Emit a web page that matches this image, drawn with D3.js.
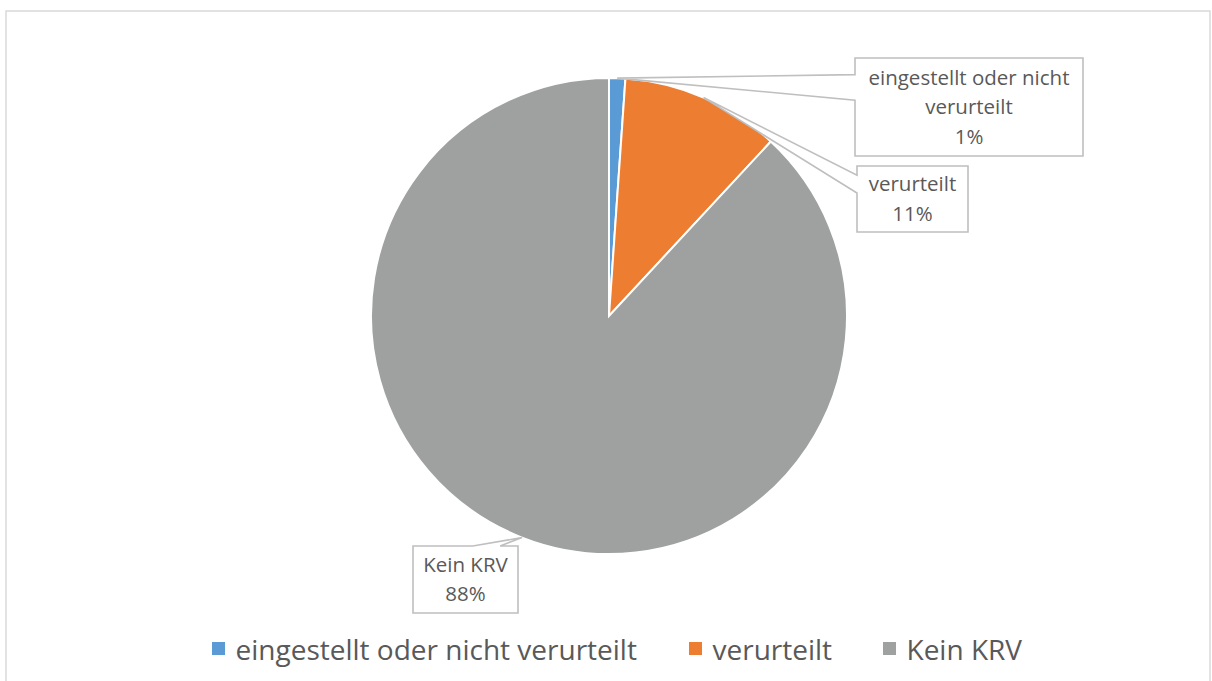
<!DOCTYPE html>
<html lang="de">
  <head>
    <meta charset="utf-8">
    <title>Verfahrensausgang</title>
    <style>
      body { margin: 0; background: #fff; }
      .frame { fill: #fff; stroke: #d9d9d9; stroke-width: 1.5px; }
      .slice { stroke: #fff; stroke-width: 2px; }
      .callout { fill: #fff; stroke: #bfbfbf; stroke-width: 1.6px; }
      .lbl { font-family: "Open Sans", "Noto Sans", sans-serif; font-size: 20.5px; fill: #595959; }
      .leg { font-family: "Open Sans", "Noto Sans", sans-serif; font-size: 28px; fill: #595959; }
    </style>
  </head>
  <body>
<script src="https://cdn.jsdelivr.net/npm/d3@7"></script>
<script>

// ************** Data *****************
const categories = ["eingestellt oder nicht verurteilt", "verurteilt", "Kein KRV"];
const values = [1.1, 10.8, 88.1];
const percentLabels = ["1%", "11%", "88%"];
const colors = ["#5b9bd5", "#ed7d31", "#9fa1a1"];

// label text split into lines, as in the original
const labelLines = [["eingestellt oder nicht", "verurteilt"], ["verurteilt"], ["Kein KRV"]];

// callout boxes: x, y, w, h, side of the wedge, wedge base (fractions of the side)
const boxes = [
  {x: 855, y: 58, w: 228, h: 98, side: "left", a: 0.17, b: 0.43},
  {x: 857, y: 166, w: 111, h: 66, side: "left", a: 0.14, b: 0.41},
  {x: 413, y: 546, w: 105, h: 67, side: "top", a: 0.57, b: 0.83}
];

const width = 1212, height = 681;
const cx = 609, cy = 316, radius = 238;

const svg = d3.select("body").append("svg")
    .attr("width", width)
    .attr("height", height);

// chart frame
svg.append("rect").attr("class", "frame")
    .attr("x", 6).attr("y", 11).attr("width", 1204).attr("height", 700);

const data = categories.map((c, i) => ({name: c, value: values[i], color: colors[i], pct: percentLabels[i], lines: labelLines[i], box: boxes[i]}));

const pie = d3.pie().sort(null).value(d => d.value);
const arc = d3.arc().innerRadius(0).outerRadius(radius);
const arcs = pie(data);

const g = svg.append("g").attr("transform", `translate(${cx},${cy})`);

g.selectAll("path.slice")
  .data(arcs)
  .enter().append("path")
    .attr("class", "slice")
    .attr("d", arc)
    .attr("fill", d => d.data.color);

// Builds the callout outline: box with a wedge pointing to (tx, ty)
function calloutPath(b, tx, ty) {
  const x0 = b.x, x1 = b.x + b.w, y0 = b.y, y1 = b.y + b.h;
  if (b.side === "left") {
    const wa = y0 + b.a * b.h, wb = y0 + b.b * b.h;
    return `M${x0},${y0}H${x1}V${y1}H${x0}V${wb}L${tx},${ty}L${x0},${wa}Z`;
  } else {
    const wa = x0 + b.a * b.w, wb = x0 + b.b * b.w;
    return `M${x0},${y0}H${wa}L${tx},${ty}L${wb},${y0}H${x1}V${y1}H${x0}Z`;
  }
}

const lab = svg.append("g");
arcs.forEach(d => {
  const mid = (d.startAngle + d.endAngle) / 2;
  const tx = cx + radius * Math.sin(mid), ty = cy - radius * Math.cos(mid);
  const b = d.data.box;
  lab.append("path").attr("class", "callout").attr("d", calloutPath(b, tx, ty));

  const lines = d.data.lines.concat([d.data.pct]);
  const lh = 29.5;
  const top = b.y + b.h / 2 - (lines.length - 1) * lh / 2;
  const t = lab.append("text").attr("class", "lbl").attr("text-anchor", "middle");
  lines.forEach((s, i) => {
    t.append("tspan").attr("x", b.x + b.w / 2).attr("y", top + i * lh).attr("dy", "0.35em").text(s);
  });
});

// ************** Legend *****************
const legX = [212, 689, 883];
const leg = svg.append("g");
data.forEach((d, i) => {
  leg.append("rect").attr("x", legX[i]).attr("y", 642).attr("width", 13).attr("height", 13).attr("fill", d.color);
  leg.append("text").attr("class", "leg").attr("x", legX[i] + 23.5).attr("y", 660).text(d.name);
});

</script>
  </body>
</html>
